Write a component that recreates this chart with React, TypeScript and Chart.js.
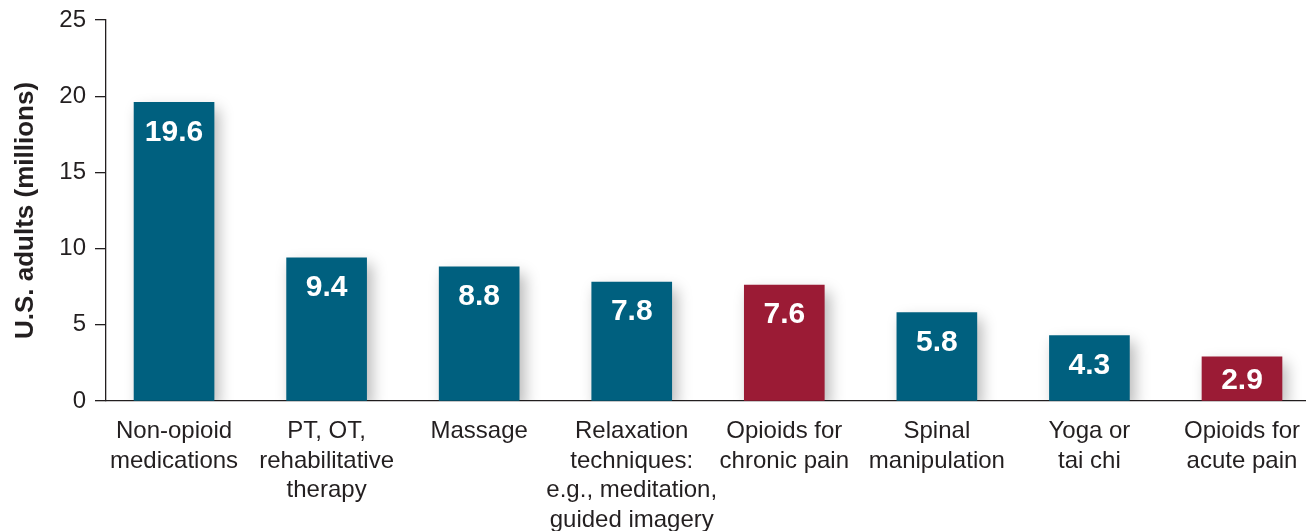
import React, { useEffect, useRef } from "react";
import { Chart, registerables } from "chart.js";

Chart.register(...registerables);

const categories: string[][] = [
  ["Non-opioid", "medications"],
  ["PT, OT,", "rehabilitative", "therapy"],
  ["Massage"],
  ["Relaxation", "techniques:", "e.g., meditation,", "guided imagery"],
  ["Opioids for", "chronic pain"],
  ["Spinal", "manipulation"],
  ["Yoga or", "tai chi"],
  ["Opioids for", "acute pain"],
];
const values: number[] = [19.6, 9.4, 8.8, 7.8, 7.6, 5.8, 4.3, 2.9];
const isOpioid: boolean[] = [false, false, false, false, true, false, false, true];
const yTicks: number[] = [0, 5, 10, 15, 20, 25];
const yTitle = "U.S. adults (millions)";

const TEAL = "#00607f";
const RED = "#9b1b35";
const TEXT = "#231f20";
const FONT = "'Liberation Sans', Arial, Helvetica, sans-serif";

const shadowPlugin = {
  id: "barShadow",
  beforeDatasetsDraw(chart: any) {
    const ctx = chart.ctx;
    ctx.save();
    ctx.shadowColor = "rgba(0,0,0,0.28)";
    ctx.shadowBlur = 14;
    ctx.shadowOffsetX = 5;
    ctx.shadowOffsetY = 7;
  },
  afterDatasetsDraw(chart: any) {
    chart.ctx.restore();
  },
};

const valueLabelPlugin = {
  id: "valueLabels",
  afterDatasetsDraw(chart: any) {
    const ctx = chart.ctx;
    const meta = chart.getDatasetMeta(0);
    ctx.save();
    ctx.fillStyle = "#ffffff";
    ctx.font = `bold 30px ${FONT}`;
    ctx.textAlign = "center";
    ctx.textBaseline = "middle";
    meta.data.forEach((bar: any, i: number) => {
      const h = bar.base - bar.y;
      const dy = Math.min(30, h / 2 + 2);
      ctx.fillText(values[i].toFixed(1), bar.x, bar.y + dy);
    });
    ctx.restore();
  },
};

export default function App() {
  const ref = useRef<HTMLCanvasElement | null>(null);

  useEffect(() => {
    if (!ref.current) return;
    const chart = new Chart(ref.current, {
      type: "bar",
      data: {
        datasets: [
          {
            data: values.map((v, i) => ({ x: i, y: v })),
            backgroundColor: values.map((_, i) => (isOpioid[i] ? RED : TEAL)),
            barThickness: 80,
            borderWidth: 0,
          },
        ],
      },
      plugins: [shadowPlugin, valueLabelPlugin],
      options: {
        animation: false,
        responsive: true,
        maintainAspectRatio: false,
        layout: { padding: { left: 0, right: 7, top: 20, bottom: 0 } },
        plugins: {
          legend: { display: false },
          tooltip: { enabled: false },
        },
        scales: {
          x: {
            type: "linear",
            offset: false,
            min: -0.446,
            max: 7.413,
            afterBuildTicks(scale: any) {
              scale.ticks = categories.map((_, i) => ({ value: i }));
            },
            afterFit(scale: any) {
              scale.height = 130;
              scale.paddingLeft = 0;
              scale.paddingRight = 0;
            },
            grid: { display: false, drawTicks: false, offset: false },
            border: { display: true, color: TEXT, width: 1.3 },
            ticks: {
              autoSkip: false,
              maxRotation: 0,
              minRotation: 0,
              padding: 16,
              color: TEXT,
              font: { family: FONT, size: 24, lineHeight: 1.23 },
              callback: (v: any) => categories[Number(v)] ?? "",
            },
          },
          y: {
            min: 0,
            max: 25,
            afterBuildTicks(scale: any) {
              scale.ticks = yTicks.map((v) => ({ value: v }));
            },
            afterFit(scale: any) {
              scale.width = 106;
              scale.paddingTop = 0;
              scale.paddingBottom = 0;
            },
            grid: {
              display: true,
              drawOnChartArea: false,
              drawTicks: true,
              tickLength: 11,
              color: TEXT,
              lineWidth: 1.3,
            },
            border: { display: true, color: TEXT, width: 1.3 },
            ticks: {
              padding: 9,
              color: TEXT,
              font: { family: FONT, size: 24 },
            },
            title: {
              display: true,
              text: yTitle,
              color: TEXT,
              font: { family: FONT, size: 26, weight: "bold" },
              padding: { top: 10, bottom: 0 },
            },
          },
        },
      },
    } as any);
    return () => chart.destroy();
  }, []);

  return (
    <div style={{ position: "fixed", left: 0, top: 0, width: 1312, height: 531 }}>
      <canvas ref={ref} />
    </div>
  );
}
